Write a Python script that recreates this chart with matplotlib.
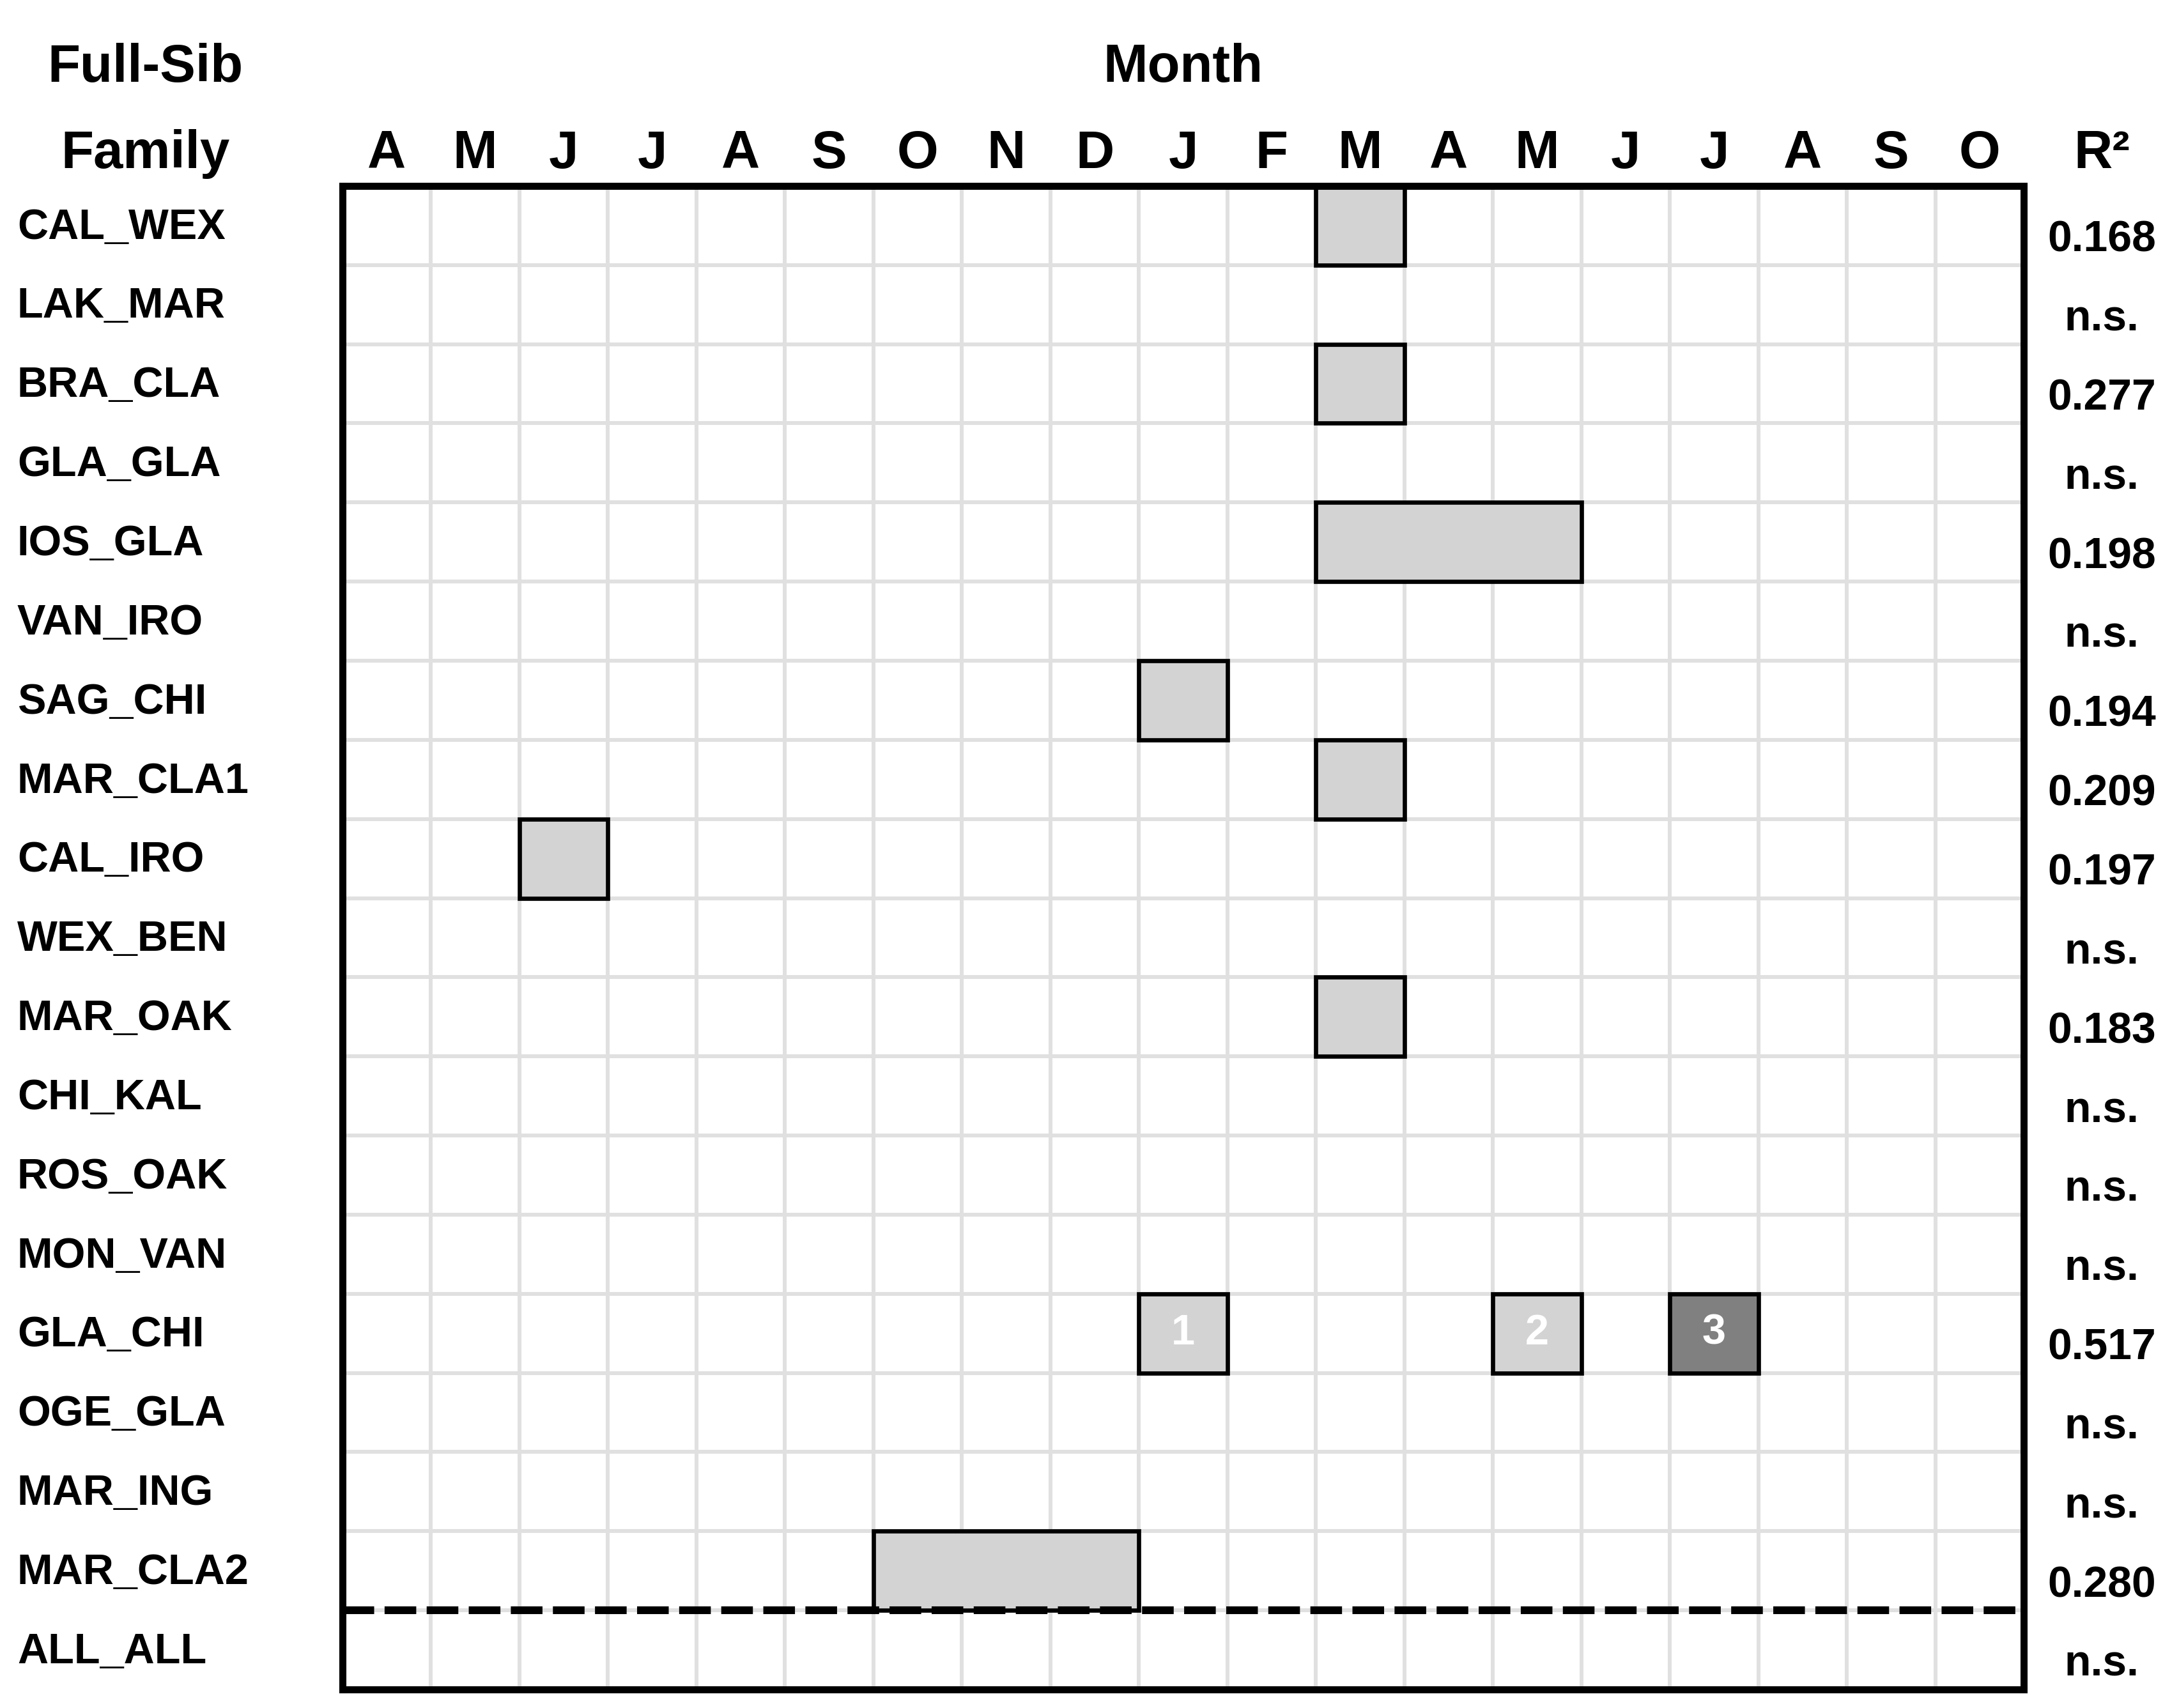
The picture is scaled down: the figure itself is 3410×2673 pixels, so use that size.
import matplotlib.pyplot as plt

plt.rcParams["font.family"] = ["Liberation Sans", "DejaVu Sans"]
plt.rcParams["font.weight"] = "bold"

# Months on the grid (April of year 1 to October of year 2)
months = ["A", "M", "J", "J", "A", "S", "O", "N", "D", "J",
          "F", "M", "A", "M", "J", "J", "A", "S", "O"]

families = ["CAL_WEX", "LAK_MAR", "BRA_CLA", "GLA_GLA", "IOS_GLA", "VAN_IRO",
            "SAG_CHI", "MAR_CLA1", "CAL_IRO", "WEX_BEN", "MAR_OAK", "CHI_KAL",
            "ROS_OAK", "MON_VAN", "GLA_CHI", "OGE_GLA", "MAR_ING", "MAR_CLA2",
            "ALL_ALL"]

r2_values = ["0.168", "n.s.", "0.277", "n.s.", "0.198", "n.s.", "0.194", "0.209",
             "0.197", "n.s.", "0.183", "n.s.", "n.s.", "n.s.", "0.517", "n.s.",
             "n.s.", "0.280", "n.s."]

# Significant windows: family, first month index, number of months, label, shade
sig_family = ["CAL_WEX", "BRA_CLA", "IOS_GLA", "SAG_CHI", "MAR_CLA1", "CAL_IRO",
              "MAR_OAK", "GLA_CHI", "GLA_CHI", "GLA_CHI", "MAR_CLA2"]
sig_start = [11, 11, 11, 9, 11, 2, 11, 9, 13, 15, 6]
sig_span = [1, 1, 3, 1, 1, 1, 1, 1, 1, 1, 3]
sig_label = ["", "", "", "", "", "", "", "1", "2", "3", ""]
sig_shade = ["light", "light", "light", "light", "light", "light", "light",
             "light", "light", "dark", "light"]

SHADES = {"light": "#d3d3d3", "dark": "#808080"}

n_cols = len(months)
n_rows = len(families)

fig = plt.figure(figsize=(3411 / 300, 2673 / 300), dpi=300)
ax = fig.add_axes([0.1571, 0.01085, 0.7714, 0.8803])
ax.set_xlim(0, n_cols)
ax.set_ylim(n_rows, 0)

# light grid, one cell per family x month
ax.set_xticks(range(n_cols + 1))
ax.set_yticks(range(n_rows + 1))
ax.grid(True, color="#e0e0e0", linewidth=1.45, zorder=0)
ax.set_axisbelow(True)
ax.tick_params(length=0, labelbottom=False, labelleft=False)
for sp in ax.spines.values():
    sp.set_linewidth(2.65)
    sp.set_zorder(5)

# shaded boxes for significant months
for fam, start, span, lab, shade in zip(sig_family, sig_start, sig_span,
                                        sig_label, sig_shade):
    row = families.index(fam)
    ax.barh(row + 0.5, span, left=start, height=1.0, color=SHADES[shade],
            edgecolor="black", linewidth=1.6, zorder=2)
    if lab:
        ax.text(start + span / 2, row + 0.5, lab, color="white", fontsize=16,
                fontweight="bold", ha="center", va="center", zorder=3)

# dashed separator above the pooled row (dash lengths in linewidth units)
sep = ax.axhline(n_rows - 1, color="black", linewidth=2.9, zorder=4)
sep.set_dashes([4.1, 1.35])

# month letters along the top
for i, m in enumerate(months):
    ax.text(i + 0.5, -0.226, m, fontsize=20, fontweight="bold",
            ha="center", va="baseline", clip_on=False)

# family names on the left, R2 on the right
for i, (fam, r2) in enumerate(zip(families, r2_values)):
    ax.text(-3.675, i + 0.53, fam, fontsize=16, fontweight="bold",
            ha="left", va="center", clip_on=False)
    ax.text(19.88, i + 0.83, r2, fontsize=16.3, fontweight="bold",
            ha="center", va="baseline", clip_on=False)

# headers
ax.text(-2.23, -1.317, "Full-Sib", fontsize=20, fontweight="bold",
        ha="center", va="baseline", clip_on=False)
ax.text(-2.23, -0.226, "Family", fontsize=20, fontweight="bold",
        ha="center", va="baseline", clip_on=False)
ax.text(n_cols / 2, -1.317, "Month", fontsize=20, fontweight="bold",
        ha="center", va="baseline", clip_on=False)
ax.text(19.88, -0.226, "R²", fontsize=20, fontweight="bold",
        ha="center", va="baseline", clip_on=False)

fig.savefig("out.png", dpi=300)
